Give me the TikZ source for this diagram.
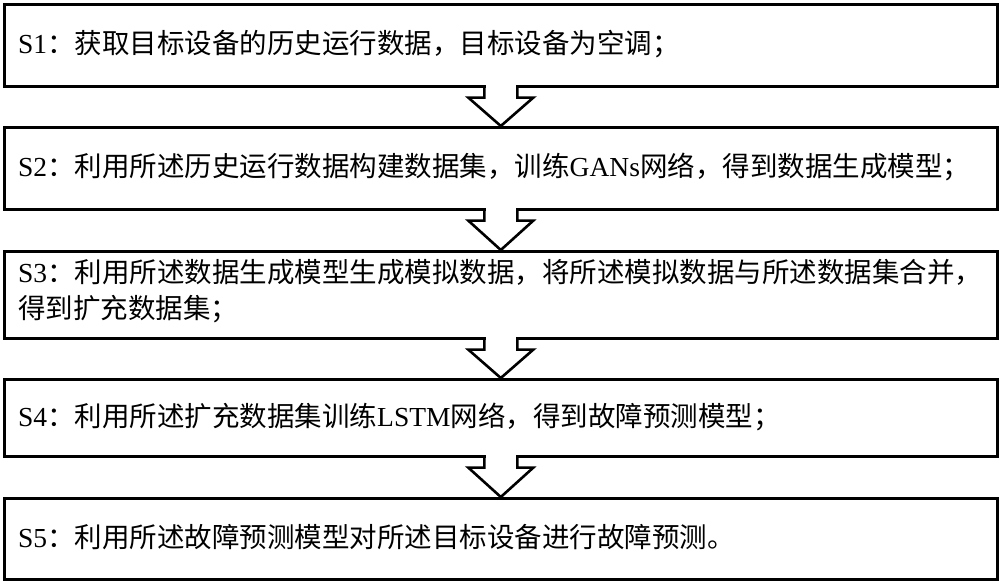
\documentclass[tikz,border=0pt]{standalone}
\usepackage{fontspec}
\setmainfont{Liberation Serif}
\newfontfamily\cjk{Noto Sans CJK SC}
\newcommand{\cj}[1]{{\cjk #1}}
\usetikzlibrary{calc}
\begin{document}
\begin{tikzpicture}[x=1pt,y=-1pt,
  stepbox/.style={draw,line width=2.6pt,minimum width=993pt,inner sep=0pt,anchor=north west},
  lbl/.style={anchor=west,align=left,inner sep=0pt,font=\fontsize{27.5pt}{36pt}\selectfont},
  arr/.style={line width=2.6pt,line join=miter}]
\useasboundingbox (0,0) rectangle (1000,581);
\node[stepbox,minimum height=82pt] (b1) at (3,3) {};
\node[stepbox,minimum height=82pt] (b2) at (3,126) {};
\node[stepbox,minimum height=87pt] (b3) at (3,250) {};
\node[stepbox,minimum height=77pt] (b4) at (3,378) {};
\node[stepbox,minimum height=81pt] (b5) at (3,497) {};
\node[lbl] (t1) at (18,44) {S1\cj{：获取目标设备的历史运行数据，目标设备为空调；}};
\node[lbl] (t2) at (18,167) {S2\cj{：利用所述历史运行数据构建数据集，训练}GANs\cj{网络，得到数据生成模型；}};
\node[lbl] (t3) at (18,291) {S3\cj{：利用所述数据生成模型生成模拟数据，将所述模拟数据与所述数据集合并，}\\\cj{得到扩充数据集；}};
\node[lbl] (t4) at (18,416.5) {S4\cj{：利用所述扩充数据集训练}LSTM\cj{网络，得到故障预测模型；}};
\node[lbl] (t5) at (18,537.5) {S5\cj{：利用所述故障预测模型对所述目标设备进行故障预测。}};
\foreach \a/\b in {b1/b2,b2/b3,b3/b4,b4/b5}{
  \fill[white] ($(\a.south)+(-15,-3)$) rectangle ($(\a.south)+(15,3)$);
  \draw[arr] ($(\a.south)+(-16.5,-1.3)$) -- ($(\a.south)+(-16.5,10)$) -- ($(\a.south)+(-32.5,10)$)
    -- (\b.north) -- ($(\a.south)+(32.5,10)$) -- ($(\a.south)+(16.5,10)$) -- ($(\a.south)+(16.5,-1.3)$);
}
\end{tikzpicture}
\end{document}
